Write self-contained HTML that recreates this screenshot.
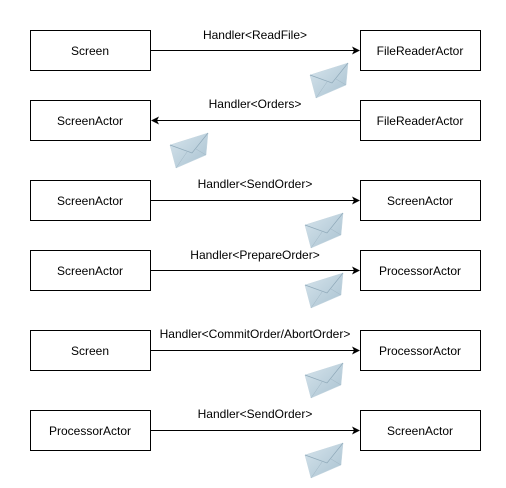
<!DOCTYPE html>
<html><head><style>body{margin:0;background:#fff}svg{display:block}</style></head><body>
<svg width="506" height="488" xmlns="http://www.w3.org/2000/svg" font-family="Liberation Sans, sans-serif" font-size="12">
<defs>
<linearGradient id="g" x1="0" y1="0" x2="1" y2="1"><stop offset="0" stop-color="#d6e4ec"/><stop offset="1" stop-color="#a9c2d1"/></linearGradient>
<g id="env"><polygon points="0,12 38,0 36,22 6,35" fill="url(#g)" stroke="#c5d6e0" stroke-width="0.5"/><polyline points="0,12 22,20 38,0" fill="none" stroke="#8fa9b9" stroke-width="0.7"/><polyline points="6,35 17,19" fill="none" stroke="#9fb6c4" stroke-width="0.5"/><polyline points="36,22 26,16" fill="none" stroke="#9fb6c4" stroke-width="0.5"/></g>
<marker id="a" markerWidth="8" markerHeight="8" refX="7" refY="4" orient="auto" markerUnits="userSpaceOnUse"><path d="M0,0 L8,4 L0,8 L2,4 Z" fill="#000"/></marker>
</defs>
<g fill="#fff" stroke="#000" stroke-width="1">
<rect x="30.5" y="30.5" width="120" height="40"/><rect x="360.5" y="30.5" width="120" height="40"/>
<rect x="30.5" y="100.5" width="120" height="40"/><rect x="360.5" y="100.5" width="120" height="40"/>
<rect x="30.5" y="180.5" width="120" height="40"/><rect x="360.5" y="180.5" width="120" height="40"/>
<rect x="30.5" y="250.5" width="120" height="40"/><rect x="360.5" y="250.5" width="120" height="40"/>
<rect x="30.5" y="330.5" width="120" height="40"/><rect x="360.5" y="330.5" width="120" height="40"/>
<rect x="30.5" y="410.5" width="120" height="40"/><rect x="360.5" y="410.5" width="120" height="40"/>
</g>
<g stroke="#000" stroke-width="1" marker-end="url(#a)">
<line x1="151" y1="50.5" x2="359" y2="50.5"/>
<line x1="360" y1="120.5" x2="152" y2="120.5"/>
<line x1="151" y1="200.5" x2="359" y2="200.5"/>
<line x1="151" y1="270.5" x2="359" y2="270.5"/>
<line x1="151" y1="350.5" x2="359" y2="350.5"/>
<line x1="151" y1="430.5" x2="359" y2="430.5"/>
</g>
<g text-anchor="middle" fill="#000">
<text x="90" y="55">Screen</text><text x="420" y="55">FileReaderActor</text>
<text x="90" y="125">ScreenActor</text><text x="420" y="125">FileReaderActor</text>
<text x="90" y="205">ScreenActor</text><text x="420" y="205">ScreenActor</text>
<text x="90" y="275">ScreenActor</text><text x="420" y="275">ProcessorActor</text>
<text x="90" y="355">Screen</text><text x="420" y="355">ProcessorActor</text>
<text x="90" y="435">ProcessorActor</text><text x="420" y="435">ScreenActor</text>
<text x="255" y="39">Handler&lt;ReadFile&gt;</text>
<text x="255" y="108">Handler&lt;Orders&gt;</text>
<text x="255" y="188">Handler&lt;SendOrder&gt;</text>
<text x="255" y="259">Handler&lt;PrepareOrder&gt;</text>
<text x="255" y="338">Handler&lt;CommitOrder/AbortOrder&gt;</text>
<text x="255" y="418">Handler&lt;SendOrder&gt;</text>
</g>
<use href="#env" x="310" y="63"/>
<use href="#env" x="170" y="133"/>
<use href="#env" x="305" y="213"/>
<use href="#env" x="305" y="273"/>
<use href="#env" x="305" y="363"/>
<use href="#env" x="305" y="443"/>
</svg>
</body></html>
